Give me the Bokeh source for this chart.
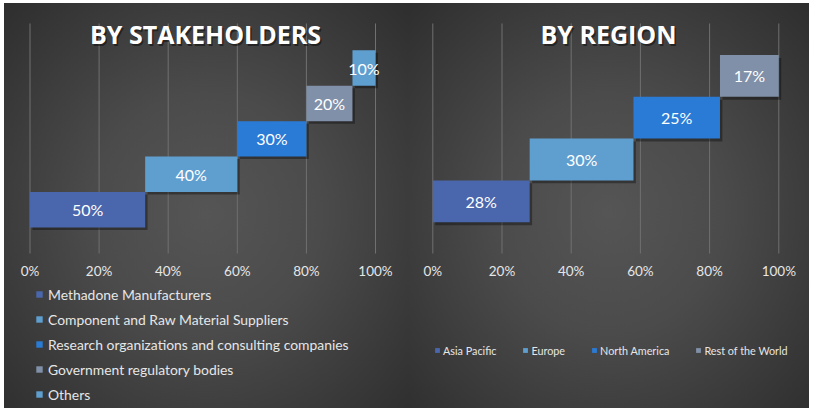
import numpy as np
from bokeh.plotting import figure
from bokeh.models import (ColumnDataSource, FixedTicker, PrintfTickFormatter,
                          Legend, LegendItem, Label, Range1d)
from bokeh.layouts import row
from bokeh.embed import file_html
from bokeh.resources import INLINE
from bokeh.core.properties import value

# ---------------- data ----------------
stake_title = "BY STAKEHOLDERS"
stake_categories = ["Methadone Manufacturers",
                    "Component and Raw Material Suppliers",
                    "Research organizations and consulting companies",
                    "Government regulatory bodies",
                    "Others"]
stake_values = [50, 40, 30, 20, 10]
stake_colors = ["#4a66ac", "#5f9fd0", "#2a7bd6", "#8090a8", "#5f9fd0"]

region_title = "BY REGION"
region_categories = ["Asia Pacific", "Europe", "North America", "Rest of the World"]
region_values = [28, 30, 25, 17]
region_colors = ["#4a66ac", "#5f9fd0", "#2a7bd6", "#8090a8"]

x_ticks = [0, 20, 40, 60, 80, 100]

FONT = "Lato"
BG = ("radial-gradient(ellipse farthest-corner at 50% 52%, "
      "#555555 0%, #4b4b4b 40%, #3a3a3a 75%, #2e2e2e 100%)")
OY = 3          # top offset of the dark area on the page
H = 405


def make_panel(title, cats, vals, colors, width, ox, x0_px, x100_px,
               band0_px, band_h, legend_cfg, legend_loc):
    vals = np.asarray(vals, dtype=float)
    share = vals / vals.sum() * 100.0
    right = np.cumsum(share)
    left = right - share
    idx = np.arange(len(vals))

    # page pixel -> figure pixel
    x0 = x0_px - ox
    x100 = x100_px - ox
    b0 = band0_px - OY
    ppx = (x100 - x0) / 100.0
    x_start = -x0 / ppx
    x_end = 100 + (width - x100) / ppx
    y_end = b0 / band_h
    y_start = -(H - b0) / band_h

    def ydata(py):
        return (b0 - (py - OY)) / band_h

    grid_top = ydata(23)
    grid_bot = ydata(253)

    src = ColumnDataSource(dict(
        left=left, right=right, bottom=idx.astype(float), top=idx + 1.0,
        xc=(left + right) / 2.0, yc=idx + 0.5, color=colors,
        label=[f"{int(v)}%" for v in vals], cat=cats,
        sl=left + 0.7, sr=right + 0.7, sb=idx - 0.07, st=idx + 1.0 - 0.07,
    ))
    p = figure(width=width, height=H, output_backend="svg",
               toolbar_location=None, x_range=Range1d(x_start, x_end),
               y_range=Range1d(y_start, y_end), y_axis_location=None,
               min_border=0)
    p.styles = {"background": BG}
    p.background_fill_color = None
    p.border_fill_color = None
    p.outline_line_color = None
    p.grid.visible = False

    # vertical grid lines at the tick positions
    p.segment(x0=x_ticks, x1=x_ticks, y0=[grid_bot] * len(x_ticks),
              y1=[grid_top] * len(x_ticks), line_color="#707070",
              line_width=1)

    ax = p.xaxis[0]
    ax.fixed_location = grid_bot
    ax.ticker = FixedTicker(ticks=x_ticks)
    ax.formatter = PrintfTickFormatter(format="%d%%")
    ax.axis_line_color = None
    ax.major_tick_line_color = None
    ax.minor_tick_line_color = None
    ax.major_tick_out = 0
    ax.major_tick_in = 0
    ax.major_label_standoff = 9
    ax.major_label_text_color = "#e6e6e6"
    ax.major_label_text_font = FONT
    ax.major_label_text_font_size = "13.5px"

    # shadow
    p.quad(left="sl", right="sr", bottom="sb", top="st", source=src,
           fill_color="black", fill_alpha=0.35, line_color=None)
    bars = p.quad(left="left", right="right", bottom="bottom", top="top",
                  source=src, fill_color="color", line_color=None)
    p.text(x="xc", y="yc", text="label", source=src, text_align="center",
           text_baseline="middle", text_color="white",
           text_font=value(FONT), text_font_size="16px")

    ty = ydata(33.5)
    p.add_layout(Label(x=50.8, y=ty, text=title, text_align="center",
                       text_baseline="middle", text_color="black",
                       text_alpha=0.45, x_offset=1.5, y_offset=-1.5,
                       text_font="Open Sans", text_font_style="bold",
                       text_font_size="25px"))
    p.add_layout(Label(x=50.8, y=ty, text=title, text_align="center",
                       text_baseline="middle", text_color="white",
                       text_font="Open Sans", text_font_style="bold",
                       text_font_size="25px"))

    items = [LegendItem(label=c, renderers=[bars], index=i)
             for i, c in enumerate(cats)]
    lx, ly = legend_loc
    leg = Legend(items=items, location=(lx - ox, ly), **legend_cfg)
    leg.background_fill_alpha = 0
    leg.border_line_color = None
    leg.label_text_color = "#e6e6e6"
    leg.label_text_font = FONT
    leg.padding = 0
    leg.margin = 0
    p.add_layout(leg, "center")
    return p


left_panel = make_panel(
    stake_title, stake_categories, stake_values, stake_colors,
    width=404, ox=4, x0_px=29.5, x100_px=375.0, band0_px=227.0, band_h=35.44,
    legend_loc=(35, 3.6),
    legend_cfg=dict(orientation="vertical",
                    glyph_width=8, glyph_height=8, label_height=20,
                    spacing=5, label_standoff=5,
                    label_text_font_size="13.9px"))

right_panel = make_panel(
    region_title, region_categories, region_values, region_colors,
    width=401, ox=408, x0_px=432.3, x100_px=778.3, band0_px=221.7,
    band_h=41.8,
    legend_loc=(434, 48),
    legend_cfg=dict(orientation="horizontal",
                    glyph_width=6, glyph_height=6, label_height=20,
                    spacing=26, label_standoff=3,
                    label_text_font_size="10.8px"))

layout = row(left_panel, right_panel, spacing=0, margin=(OY, 0, 0, 4))
open("out.html", "w").write(file_html(layout, INLINE))
